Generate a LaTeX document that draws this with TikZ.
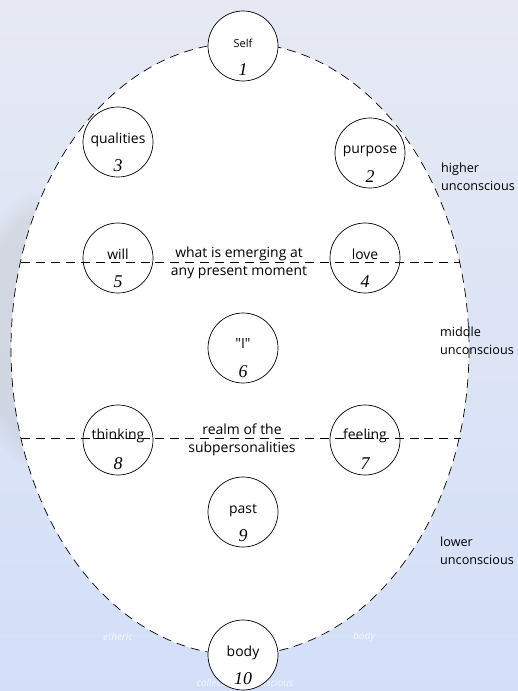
\documentclass[tikz,border=0pt]{standalone}
\usepackage{fontspec}
\setmainfont{Open Sans}
\newfontfamily\numfont{Liberation Serif}
\usetikzlibrary{fadings}
\definecolor{bgtop}{HTML}{E6E9F3}
\definecolor{bgbot}{HTML}{D3DFF9}
\tikzset{
	station/.style={circle,draw,fill=white,line width=0.7pt,minimum size=70bp,inner sep=0pt},
	stationtext/.style={font=\fontsize{14}{15}\selectfont,inner sep=0pt},
	stationnum/.style={font=\fontsize{18}{18}\numfont\itshape,inner sep=0pt},
	level/.style={font=\fontsize{12.7}{18}\selectfont,align=left,anchor=north west,inner sep=0pt},
	middletext/.style={font=\fontsize{14}{18.5}\selectfont,align=center,inner sep=0pt},
	faint/.style={text=white,opacity=0.75,font=\fontsize{10}{11}\selectfont\itshape,inner sep=0pt},
	border/.style={dash pattern=on 9pt off 6pt,line width=0.7pt}
}
% circle with its name and its number
\newcommand{\station}[5]{%
	\node[station] (#1) at (#2) {};
	\node[stationtext] (#1-txt) at ([yshift=#5]#1.center) {#3};
	\node[stationnum] (#1-num) at ([yshift=-24pt]#1.center) {#4};}
\begin{document}
\begin{tikzpicture}[x=1bp,y=-1bp]
		\useasboundingbox (0,0) rectangle (518,691);
		\shade[top color=bgtop,bottom color=bgbot] (0,0) rectangle (518,691);
		\fill[black!25,opacity=0.35,path fading=circle with fuzzy edge 20 percent] (40,330) ellipse (70 and 140);
		\draw[border,fill=white] (240,349) ellipse (229 and 306);
		\node[faint] (etheric) at (118,637) {etheric};
		\node[faint] (bodyfaint) at (364,637) {body};
		\node[faint] (collective) at (245,683) {collective unconscious};
		\station{self}{243,46}{\fontsize{11}{12}\selectfont Self}{1}{3pt}
		\station{purpose}{370,153}{purpose}{2}{2pt}
		\station{qualities}{118,142}{qualities}{3}{2pt}
		\station{love}{365,258}{love}{4}{4pt}
		\station{will}{118,258}{will}{5}{4pt}
		\station{ego}{243,348}{\textquotedbl I\textquotedbl}{6}{5pt}
		\station{feeling}{365,440}{feeling}{7}{4pt}
		\station{thinking}{118,440}{thinking}{8}{4pt}
		\station{past}{243,512}{past}{9}{1pt}
		\station{body}{243,655}{body}{10}{2pt}
		\node[middletext] (emerging) at (239,263) {what is emerging at\\any present moment};
		\node[middletext] (realm) at (242,440) {realm of the\\subpersonalities};
		\coordinate (H1) at (21,262);
		\coordinate (H2) at (460,262);
		\coordinate (L1) at (21,438);
		\coordinate (L2) at (461,438);
		\draw[border] (H1) -- (H2);
		\draw[border] (L1) -- (L2);
		\node[level] (higher) at (441,163) {higher\\unconscious};
		\node[level] (middle) at (440,327) {middle\\unconscious};
		\node[level] (lower) at (440,537) {lower\\unconscious};
\end{tikzpicture}
\end{document}
